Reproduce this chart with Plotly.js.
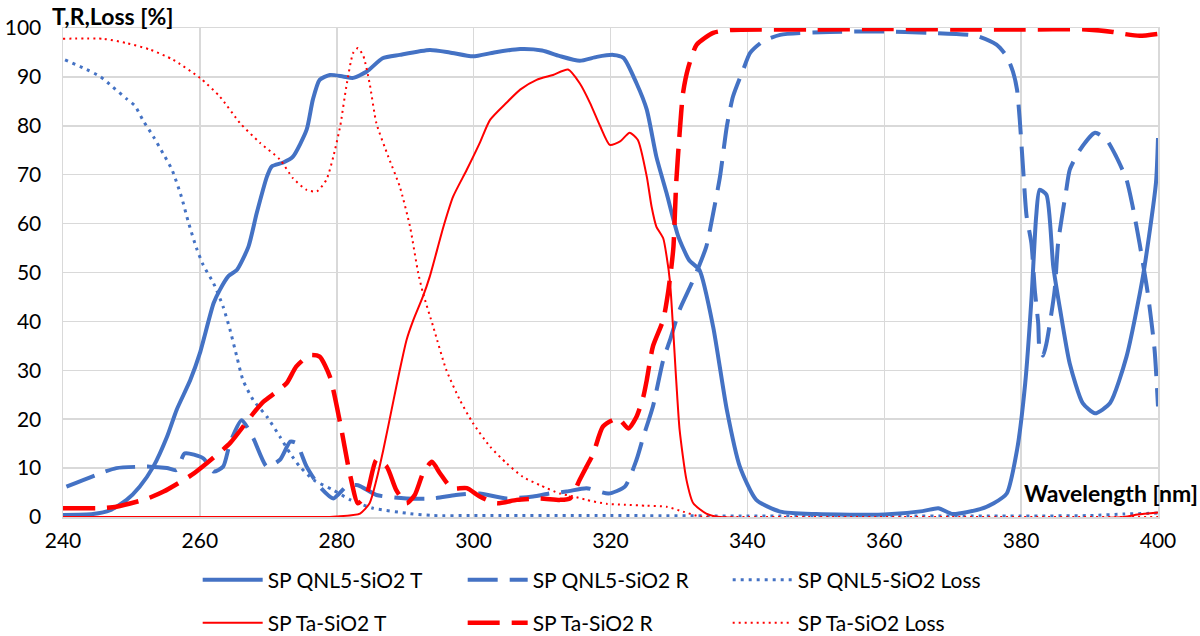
<!DOCTYPE html>
<html>
<head>
<meta charset="utf-8">
<script src="https://cdn.plot.ly/plotly-3.0.1.min.js"></script>
<style>html,body{margin:0;padding:0;background:#fff;}#chart{width:1200px;height:636px;}</style>
</head>
<body>
<div id="chart"></div>
<script>
// ---- data (wavelength nm, percent) ----
const seriesNames = ["SP QNL5-SiO2 T", "SP QNL5-SiO2 R", "SP QNL5-SiO2 Loss", "SP Ta-SiO2 T", "SP Ta-SiO2 R", "SP Ta-SiO2 Loss"];
const xTicks = [240, 260, 280, 300, 320, 340, 360, 380, 400];
const yTicks = [0, 10, 20, 30, 40, 50, 60, 70, 80, 90, 100];

const qT_x = [240,244.4,246.9,249.3,251.2,253.2,255.2,256.6,258.6,260,262,262.9,264.2,265.4,267.1,268.3,269.8,270.5,272.2,273.6,275.6,276.5,277.5,279,280.9,282.4,284.4,286.7,289.2,293.6,296.5,299.9,303,306.8,310,312.5,315.5,318,320.4,321.9,323.8,325.3,326.7,328.2,329.9,331.5,333,335,337,338.9,341.3,344.8,350,360,365.6,367.9,370,374,376,377.9,379.4,380.6,381.5,382.2,382.7,383.7,384.7,385.7,387.1,389,390.8,393,395.4,397.8,399.7,400];
const qT_y = [0.4,0.6,1.4,3.5,6.2,10.3,16.4,21.9,28,33.5,43.7,46.4,49.3,50.5,55.3,62.1,69.6,71.7,72.5,73.7,79.2,85.3,89.4,90.4,90.1,89.8,91.1,93.8,94.5,95.5,95,94.2,95,95.7,95.4,94.3,93.3,94.1,94.5,93.9,88.7,83.3,73.7,66.2,57.4,52.5,50.5,38.9,21.9,10.3,3.5,1.1,0.6,0.5,1.2,1.8,0.6,1.6,2.8,4.8,13.7,27.4,44.4,61.5,66.9,65.9,51.2,42.4,31.4,23.3,21.2,23.3,32.8,49.2,68.3,77.5];

const qR_x = [240.5,245.4,247.8,252.7,255.2,256.6,257.8,260.5,262,263.4,264.4,266.1,267.8,269.8,271.7,273.2,274.1,275.6,277.5,279.5,281.4,283.1,285.8,290.2,294.1,297.4,300.9,304.8,308.7,311.1,313.6,316.5,319.7,322.1,323.8,324.8,326.2,327.7,328.7,330.1,332.1,334,335,336,337,337.9,339.4,340.4,342.3,344.8,352,359.4,366.7,373.5,376.4,377.9,378.8,379.4,379.8,380.3,380.8,381.5,382,382.5,382.7,383.2,383.7,384.2,384.9,385.4,385.9,386.6,387.1,388.6,390.8,392.5,393.9,395.4,396.3,397.3,398.5,399.5,400];
const qR_y = [6.2,8.9,10,10.3,10,9.6,13,12,9.3,10.3,15.1,19.8,16.1,10.3,11.7,15.4,15.1,10.3,6.2,3.8,6.2,6.5,4.5,3.8,3.8,4.5,4.8,3.8,4.2,4.8,5.2,5.9,4.8,6.2,11.7,16.4,22.6,32.1,36.2,42.4,48.5,55.3,62.1,69.6,79.9,86,91.5,94.9,97.3,98.6,99.2,99.3,99,98.4,96.6,94.2,91.1,87.4,81.2,71,61.5,56,46.4,39.6,34.2,33,35.5,39.6,46.4,56,60.8,66.9,71,75.1,78.6,77.1,73.7,69,63.5,56,45.8,34.2,22.6];

const qL_x = [240.3,243,245.4,247.3,249.3,250.5,251.7,253.2,254.6,255.9,257.3,258.3,259.5,260.5,262,263.4,264.4,265.4,266.3,267.8,269.8,271.7,273.2,274.6,276.6,279.5,282,285.3,290.7,294.1,300,320,340,360,380,390,395,400];
const qL_y = [93.5,91.8,90.1,87.9,85.5,84.1,81.1,77.8,74.4,71.1,65.5,60.4,55,51.5,47.8,43,38.3,32.8,28,23.9,20.5,16.4,13,10.3,7.6,5.5,3.5,1.8,0.7,0.3,0.3,0.3,0.2,0.2,0.2,0.3,0.6,0.8];

const tT_x = [240,270,279,280,283.4,284.8,285.8,286.8,288.3,289.2,290.2,291.2,292.6,293.6,295.6,297,299,300.9,302.4,304.8,306.8,309.2,311.6,313.8,315.5,317,318.5,319.9,321.4,322.8,324,325.3,326,326.7,327.7,328.2,328.7,329.6,330.1,331.1,332.1,334,336,395,397,400];
const tT_y = [0,0,0,0.1,0.7,2.8,7.6,13.7,23.9,30,36.2,40.3,45.1,49.2,59.4,65.5,71,76.5,81.2,84.7,87.4,89.4,90.4,91.5,88.7,84.7,79.9,76.1,76.8,78.6,77.1,69.6,63.5,59.4,57,53.3,48,28,17.8,7.6,2.8,0.7,0,0,0.5,0.9];

const tR_x = [240,245.2,247.8,252.2,254.7,258.8,261,264.4,267.8,269.3,271.2,272.7,274.1,276.1,277.5,279,280.5,281.9,283.1,284.4,285.8,287.3,288.7,290.2,291.4,292.6,293.9,295.1,296.8,299,300.9,303.4,306.3,309.7,312.6,314.1,315.5,316.5,317.5,318.9,321.1,322.6,323.8,324.8,325.3,326.2,327.7,328.4,328.9,329.2,329.6,330.1,330.6,331.4,332.6,335,337.5,350,360,370,380,389.5,393.4,395,397.3,400];
const tR_y = [1.8,1.8,2.1,3.7,5.2,8.6,11,15.1,21.2,23.6,25.6,27.4,30.8,33.1,32.8,28.7,19.2,8.9,2.8,4.8,11.7,10.3,5.5,2.8,4.5,8.9,11.3,8.9,5.9,5.9,4.2,2.8,3.5,3.8,3.5,3.8,7.6,10.3,13,18.5,20.2,18.1,20.5,24.6,28,34.9,40.3,45.8,51.2,55.3,68.3,78.5,86.7,92.1,96.6,99,99.6,99.7,99.8,99.7,99.7,99.7,99.2,98.8,98.4,98.8];

const tL_x = [240,245.9,249.3,252.7,256.1,260,262.9,265.9,268.8,271.7,273.6,275.6,277.1,278.5,279.5,280.5,281.4,282.4,283.1,283.9,284.8,285.8,287.5,289.2,290.7,291.9,292.6,294.1,296,298,299.9,302.4,304.8,307.2,309.7,312.6,314.6,316.5,319.4,322,325.3,328.2,330.6,333.1,340,400];
const tL_y = [97.8,97.8,96.9,95.6,93.5,89.8,86,80.5,76.5,73.1,69.3,66.9,66.6,69,73.7,79.9,88,94.9,95.9,94.2,88.7,80.5,73.8,67.6,59.4,49.9,45.8,38.9,30.1,23.9,19.2,14.4,11,8.2,6.5,4.8,4.2,3.5,2.7,2.5,2.3,2.1,1.1,0.1,0,0];

const BLUE = '#4472c4';
const RED = '#ff0000';

const traces = [
  {x: qT_x, y: qT_y, name: seriesNames[0], legend: 'legend', line: {color: BLUE, width: 4}},
  {x: qR_x, y: qR_y, name: seriesNames[1], legend: 'legend', line: {color: BLUE, width: 4, dash: '30px,12px'}},
  {x: qL_x, y: qL_y, name: seriesNames[2], legend: 'legend', line: {color: BLUE, width: 3, dash: '3px,5px'}},
  {x: tT_x, y: tT_y, name: seriesNames[3], legend: 'legend2', line: {color: RED, width: 2}},
  {x: tR_x, y: tR_y, name: seriesNames[4], legend: 'legend2', line: {color: RED, width: 4.5, dash: '32px,12px'}},
  {x: tL_x, y: tL_y, name: seriesNames[5], legend: 'legend2', line: {color: RED, width: 2, dash: '2px,4px'}}
].map(t => Object.assign({type: 'scatter', mode: 'lines', hoverinfo: 'skip'}, t, {line: Object.assign({shape: 'spline', smoothing: 0.6}, t.line)}));

const FONT = 'Lato, "Open Sans", sans-serif';
const legendCommon = {
  orientation: 'h', xanchor: 'left', yanchor: 'middle', x: 0.123,
  font: {family: FONT, size: 21, color: '#000'},
  entrywidth: 190, entrywidthmode: 'pixels', itemwidth: 60,
  bgcolor: 'rgba(0,0,0,0)', traceorder: 'normal'
};

const layout = {
  width: 1200, height: 636,
  margin: {l: 63, r: 42, t: 28, b: 119, autoexpand: false},
  paper_bgcolor: '#fff', plot_bgcolor: '#fff',
  showlegend: true,
  font: {family: FONT, size: 21, color: '#000'},
  xaxis: {
    range: [240, 400], tickvals: xTicks, ticktext: xTicks.map(String),
    showgrid: true, gridcolor: '#d9d9d9', gridwidth: 1.5,
    showline: true, linecolor: '#d9d9d9', linewidth: 1.5, mirror: true,
    zeroline: false, ticks: '', ticklabelstandoff: 4,
    tickfont: {family: FONT, size: 21, color: '#000'}
  },
  yaxis: {
    range: [0, 100], tickvals: yTicks, ticktext: yTicks.map(String),
    showgrid: true, gridcolor: '#d9d9d9', gridwidth: 1.5,
    showline: true, linecolor: '#d9d9d9', linewidth: 1.5, mirror: true,
    zeroline: false, ticks: '', ticklabelstandoff: 16,
    tickfont: {family: FONT, size: 21, color: '#000'}
  },
  legend: Object.assign({}, legendCommon, {y: -0.1288}),
  legend2: Object.assign({}, legendCommon, {y: -0.2168}),
  annotations: [
    {text: '<b>T,R,Loss [%]</b>', xref: 'paper', yref: 'paper', x: -0.012, y: 1.0245, xanchor: 'left', yanchor: 'middle', showarrow: false, font: {family: FONT, size: 23, color: '#000'}},
    {text: '<b>Wavelength [nm]</b>', xref: 'paper', yref: 'paper', x: 1.038, y: 0.049, xanchor: 'right', yanchor: 'middle', showarrow: false, font: {family: FONT, size: 23, color: '#000'}}
  ]
};

Plotly.newPlot('chart', traces, layout, {staticPlot: true, displayModeBar: false});
</script>
</body>
</html>
